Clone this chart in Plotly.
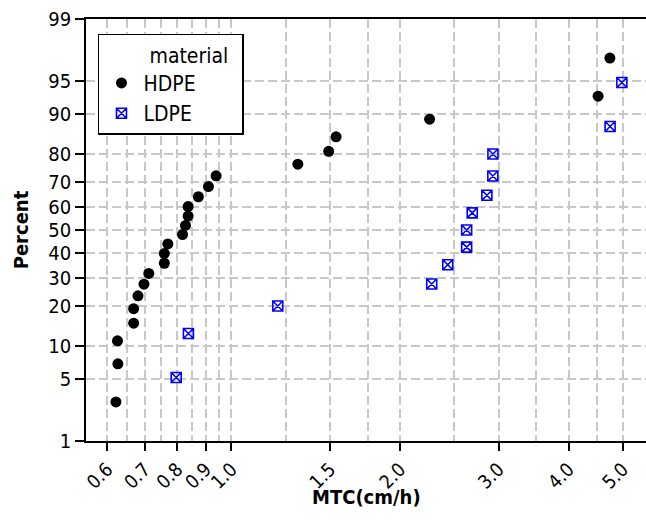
import math
import plotly.graph_objects as go
from statistics import NormalDist

# ---- data ----
hdpe_mtc = [0.622, 0.627, 0.626, 0.669, 0.669, 0.681, 0.698, 0.712, 0.759, 0.759,
            0.770, 0.818, 0.828, 0.837, 0.837, 0.873, 0.910, 0.939, 1.314, 1.492,
            1.538, 2.259, 4.517, 4.741]
hdpe_pct = [2.9, 7.0, 11.1, 15.2, 19.3, 23.4, 27.5, 31.6, 35.7, 39.8,
            43.9, 48.0, 52.0, 56.1, 60.2, 64.3, 68.4, 72.5, 76.6, 80.7,
            84.8, 88.9, 93.0, 97.1]

ldpe_mtc = [0.797, 0.838, 1.210, 2.279, 2.434, 2.631, 2.631, 2.692, 2.859,
            2.930, 2.931, 4.745, 4.980]
ldpe_pct = [5.2, 12.7, 20.1, 27.6, 35.1, 42.5, 50.0, 57.5, 64.9,
            72.4, 79.9, 87.3, 94.8]

x_ticks = [0.6, 0.7, 0.8, 0.9, 1.0, 1.5, 2.0, 3.0, 4.0, 5.0]
x_ticktext = ["0.6", "0.7", "0.8", "0.9", "1.0", "1.5", "2.0", "3.0", "4.0", "5.0"]
x_minor = [0.65, 0.75, 0.85, 0.95, 1.25, 1.75, 2.5, 3.5, 4.5]
y_ticks = [1, 5, 10, 20, 30, 40, 50, 60, 70, 80, 90, 95, 99]

nd = NormalDist()


def probit(pcts):
    return [nd.inv_cdf(p / 100.0) for p in pcts]


FONT = "DejaVu Sans Condensed, DejaVu Sans, sans-serif"
GRID = "#c8c8c8"

fig = go.Figure()
fig.add_trace(go.Scatter(
    x=hdpe_mtc, y=probit(hdpe_pct), mode="markers", name="HDPE",
    marker=dict(symbol="circle", color="black", size=11),
))
fig.add_trace(go.Scatter(
    x=ldpe_mtc, y=probit(ldpe_pct), mode="markers", name="LDPE",
    marker=dict(symbol="square-x-open", color="blue", size=10,
                line=dict(color="blue", width=1.6)),
))

fig.update_layout(
    width=646, height=522,
    margin=dict(l=86, r=0, t=19, b=81, autoexpand=False),
    plot_bgcolor="white", paper_bgcolor="white",
    font=dict(family=FONT, size=20, color="black"),
    legend=dict(
        x=0.0214, y=0.9645, xanchor="left", yanchor="top",
        bordercolor="black", borderwidth=1.5, bgcolor="white",
        title=dict(text="\u00a0" * 8 + "material" + "\u00a0" * 2, font=dict(size=21)),
        font=dict(size=21),
        itemwidth=34,
        tracegroupgap=0,
    ),
    xaxis=dict(
        type="log", range=[math.log10(0.55), math.log10(5.5)],
        automargin=False,
        tickmode="array", tickvals=x_ticks, ticktext=x_ticktext,
        tickfont=dict(size=19),
        tickangle=-45, ticks="outside", ticklen=8, tickwidth=1.5, tickcolor="black",
        showline=True, linecolor="black", linewidth=1.5, mirror=True,
        showgrid=True, gridcolor=GRID, gridwidth=1.5, griddash="9px,4px",
        minor=dict(tickvals=x_minor, showgrid=True, gridcolor=GRID, gridwidth=1.5,
                   griddash="9px,4px", ticks=""),
        zeroline=False,
    ),
    yaxis=dict(
        range=[nd.inv_cdf(0.01), nd.inv_cdf(0.99)],
        automargin=False,
        tickmode="array", tickvals=probit(y_ticks), ticktext=[str(v) for v in y_ticks],
        ticks="outside", ticklen=9, tickwidth=1.5, tickcolor="black",
        showline=True, linecolor="black", linewidth=1.5,
        showgrid=True, gridcolor=GRID, gridwidth=1.5, griddash="9px,4px",
        zeroline=False,
        title=dict(text="<b>Percent</b>", font=dict(size=20), standoff=14),
    ),
    annotations=[dict(
        text="<b>MTC(cm/h)</b>", xref="paper", yref="paper", x=0.5, y=-0.1327,
        xanchor="center", yanchor="middle", showarrow=False, font=dict(size=20),
    )],
)

fig.write_html(
    "out.html",
    config={"displayModeBar": False},
    post_script="document.body.style.margin='0';document.body.style.overflow='hidden';",
)
